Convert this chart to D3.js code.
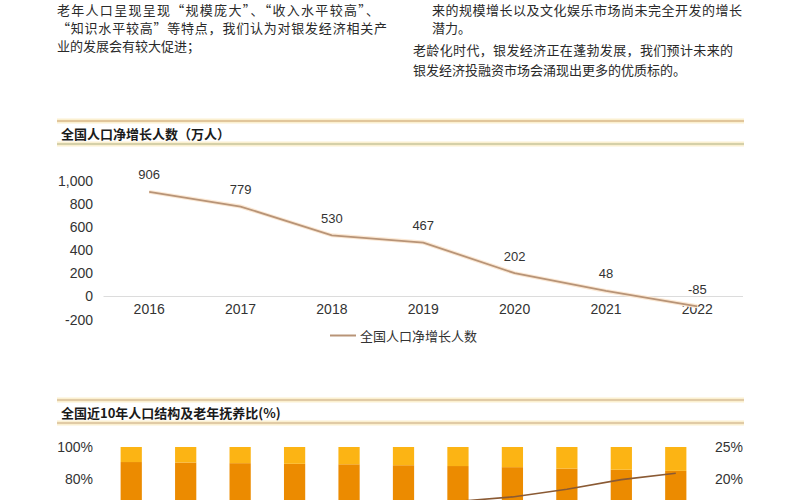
<!DOCTYPE html>
<html><head><meta charset="utf-8">
<script src="https://cdn.jsdelivr.net/npm/d3@7/dist/d3.min.js"></script>
<style>
html,body{margin:0;padding:0;background:#fff;overflow:hidden;}
svg{display:block;}
</style></head>
<body>
<script>
// ---- data ----
const years1 = ["2016","2017","2018","2019","2020","2021","2022"];
const netGrowth = [906, 779, 530, 467, 202, 48, -85];
const yTicks1 = [-200, 0, 200, 400, 600, 800, 1000];
const seriesName1 = "全国人口净增长人数";
const title1 = "全国人口净增长人数（万人）";

const years2 = ["2012","2013","2014","2015","2016","2017","2018","2019","2020","2021","2022"];
const share0to14 = [16.5,16.4,16.5,16.5,16.7,16.8,16.9,16.8,17.9,17.5,16.9];
const share15to64 = [74.1,73.9,73.4,73.0,72.5,71.8,71.2,70.6,68.6,68.3,68.2];
const share65plus = [9.4,9.7,10.1,10.5,10.8,11.4,11.9,12.6,13.5,14.2,14.9];
const oldDependency = [12.7,13.1,13.7,14.3,15.0,15.9,16.5,17.2,18.4,19.9,20.9];
const leftTicks2 = [80, 100];
const rightTicks2 = [20, 25];
const title2 = "全国近10年人口结构及老年抚养比(%)";

const leftText = [
  {t:"老年人口呈现呈现“规模庞大”、“收入水平较高”、", x:57, y:9.5, w:322},
  {t:"“知识水平较高”等特点，我们认为对银发经济相关产", x:57, y:27.5, w:330},
  {t:"业的发展会有较大促进；", x:57, y:45.5, w:0}
];
const rightText = [
  {t:"来的规模增长以及文化娱乐市场尚未完全开发的增长", x:432, y:9.5, w:310},
  {t:"潜力。", x:432, y:27.5, w:0},
  {t:"老龄化时代，银发经济正在蓬勃发展，我们预计未来的", x:413, y:49, w:320},
  {t:"银发经济投融资市场会涌现出更多的优质标的。", x:413, y:69, w:0}
];

const W = 800, H = 500;
const svg = d3.select("body").append("svg").attr("width", W).attr("height", H);
const cjk = "'Noto Sans CJK SC', 'Noto Sans', sans-serif";
const latin = "Arial, 'Liberation Sans', 'Noto Sans CJK SC', sans-serif";
const fmtNum = d => d3.format(",")(d).replace("\u2212", "-");

// body text
[...leftText, ...rightText].forEach(d => {
  const t = svg.append("text").attr("x", d.x).attr("y", d.y)
    .attr("dominant-baseline", "central")
    .style("font-family", cjk).style("font-size", "13px").style("fill", "#2a2a2a")
    .text(d.t);
  if (d.w) t.attr("textLength", d.w).attr("lengthAdjust", "spacing");
});

// section headers
function header(yTop, yBot, yTitle, title, topColor, botColor) {
  [[yTop, topColor], [yBot, botColor]].forEach(([y, c]) => {
    svg.append("line").attr("x1", 57).attr("x2", 744).attr("y1", y).attr("y2", y)
      .attr("stroke", "#fbf0d0").attr("stroke-width", 5);
    svg.append("line").attr("x1", 57).attr("x2", 744).attr("y1", y).attr("y2", y)
      .attr("stroke", c).attr("stroke-width", 1.6);
  });
  svg.append("text").attr("x", 61).attr("y", yTitle).attr("dominant-baseline", "central")
    .style("font-family", cjk).style("font-size", "13px").style("font-weight", "bold")
    .style("fill", "#1a1a1a").text(title);
}
header(121, 144, 133, title1, "#d8b98a", "#c8c69c");
header(400, 423, 412, title2, "#d8bf98", "#d8bf98");

// ---- chart 1 ----
const x1 = d3.scaleBand().domain(years1).range([103.5, 743]);
const y1 = d3.scaleLinear().domain([-200, 1000]).range([319.6, 181]);

svg.append("line").attr("x1", 103.5).attr("x2", 743)
  .attr("y1", y1(0)).attr("y2", y1(0)).attr("stroke", "#dcdcdc").attr("stroke-width", 1);

const yAxis1 = svg.append("g").attr("transform", "translate(93,0)")
  .call(d3.axisLeft(y1).tickValues(yTicks1).tickSize(0).tickPadding(0).tickFormat(fmtNum));
yAxis1.select(".domain").remove();
yAxis1.selectAll("text").style("font-family", latin).style("font-size", "14px").style("fill", "#333");

const xAxis1 = svg.append("g").attr("transform", "translate(0,304)")
  .call(d3.axisBottom(x1).tickSize(0).tickPadding(0));
xAxis1.select(".domain").remove();
xAxis1.selectAll("text").style("font-family", latin).style("font-size", "14px").style("fill", "#333");

const line1 = d3.line().x((d, i) => x1(years1[i]) + x1.bandwidth() / 2).y(d => y1(d));
svg.append("path").datum(netGrowth).attr("d", line1)
  .attr("fill", "none").attr("stroke", "#fbe8d4").attr("stroke-width", 4);
svg.append("path").datum(netGrowth).attr("d", line1)
  .attr("fill", "none").attr("stroke", "#b89477").attr("stroke-width", 1.8);

svg.selectAll(".lbl1").data(netGrowth).enter().append("text")
  .attr("x", (d, i) => x1(years1[i]) + x1.bandwidth() / 2)
  .attr("y", d => y1(d) - 17).attr("text-anchor", "middle").attr("dominant-baseline", "central")
  .style("font-family", latin).style("font-size", "13px").style("fill", "#333")
  .text(d => fmtNum(d));

// legend
svg.append("line").attr("x1", 330).attr("x2", 356).attr("y1", 335.5).attr("y2", 335.5)
  .attr("stroke", "#b89477").attr("stroke-width", 2);
svg.append("text").attr("x", 360).attr("y", 335.5).attr("dominant-baseline", "central")
  .style("font-family", cjk).style("font-size", "13px").style("fill", "#333").text(seriesName1);

// ---- chart 2 ----
const x2 = d3.scaleBand().domain(years2).range([104, 703]).paddingInner(0.61).paddingOuter(0.305);
const y2 = d3.scaleLinear().domain([0, 100]).range([607, 447]);
const y2r = d3.scaleLinear().domain([0, 25]).range([607, 447]);

const stackData = years2.map((y, i) => ({year: y, a: share0to14[i], b: share15to64[i], c: share65plus[i]}));
const stacked = d3.stack().keys(["a", "b", "c"])(stackData);
const colors = {a: "#f6c36a", b: "#ec8b00", c: "#fcb414"};
stacked.forEach(s => {
  svg.append("g").selectAll("rect").data(s).enter().append("rect")
    .attr("x", d => x2(d.data.year)).attr("width", x2.bandwidth())
    .attr("y", d => y2(d[1])).attr("height", d => y2(d[0]) - y2(d[1]))
    .attr("fill", colors[s.key]);
});

const line2 = d3.line().x((d, i) => x2(years2[i]) + x2.bandwidth() / 2).y(d => y2r(d));
svg.append("path").datum(oldDependency).attr("d", line2)
  .attr("fill", "none").attr("stroke", "#8a5a34").attr("stroke-width", 1.6);

const yAxis2 = svg.append("g").attr("transform", "translate(93,0)")
  .call(d3.axisLeft(y2).tickValues(leftTicks2).tickSize(0).tickPadding(0).tickFormat(d => d + "%"));
yAxis2.select(".domain").remove();
yAxis2.selectAll("text").style("font-family", latin).style("font-size", "14px").style("fill", "#333");

const yAxis2r = svg.append("g").attr("transform", "translate(715,0)")
  .call(d3.axisRight(y2r).tickValues(rightTicks2).tickSize(0).tickPadding(0).tickFormat(d => d + "%"));
yAxis2r.select(".domain").remove();
yAxis2r.selectAll("text").style("font-family", latin).style("font-size", "14px").style("fill", "#333");
</script>
</body></html>
